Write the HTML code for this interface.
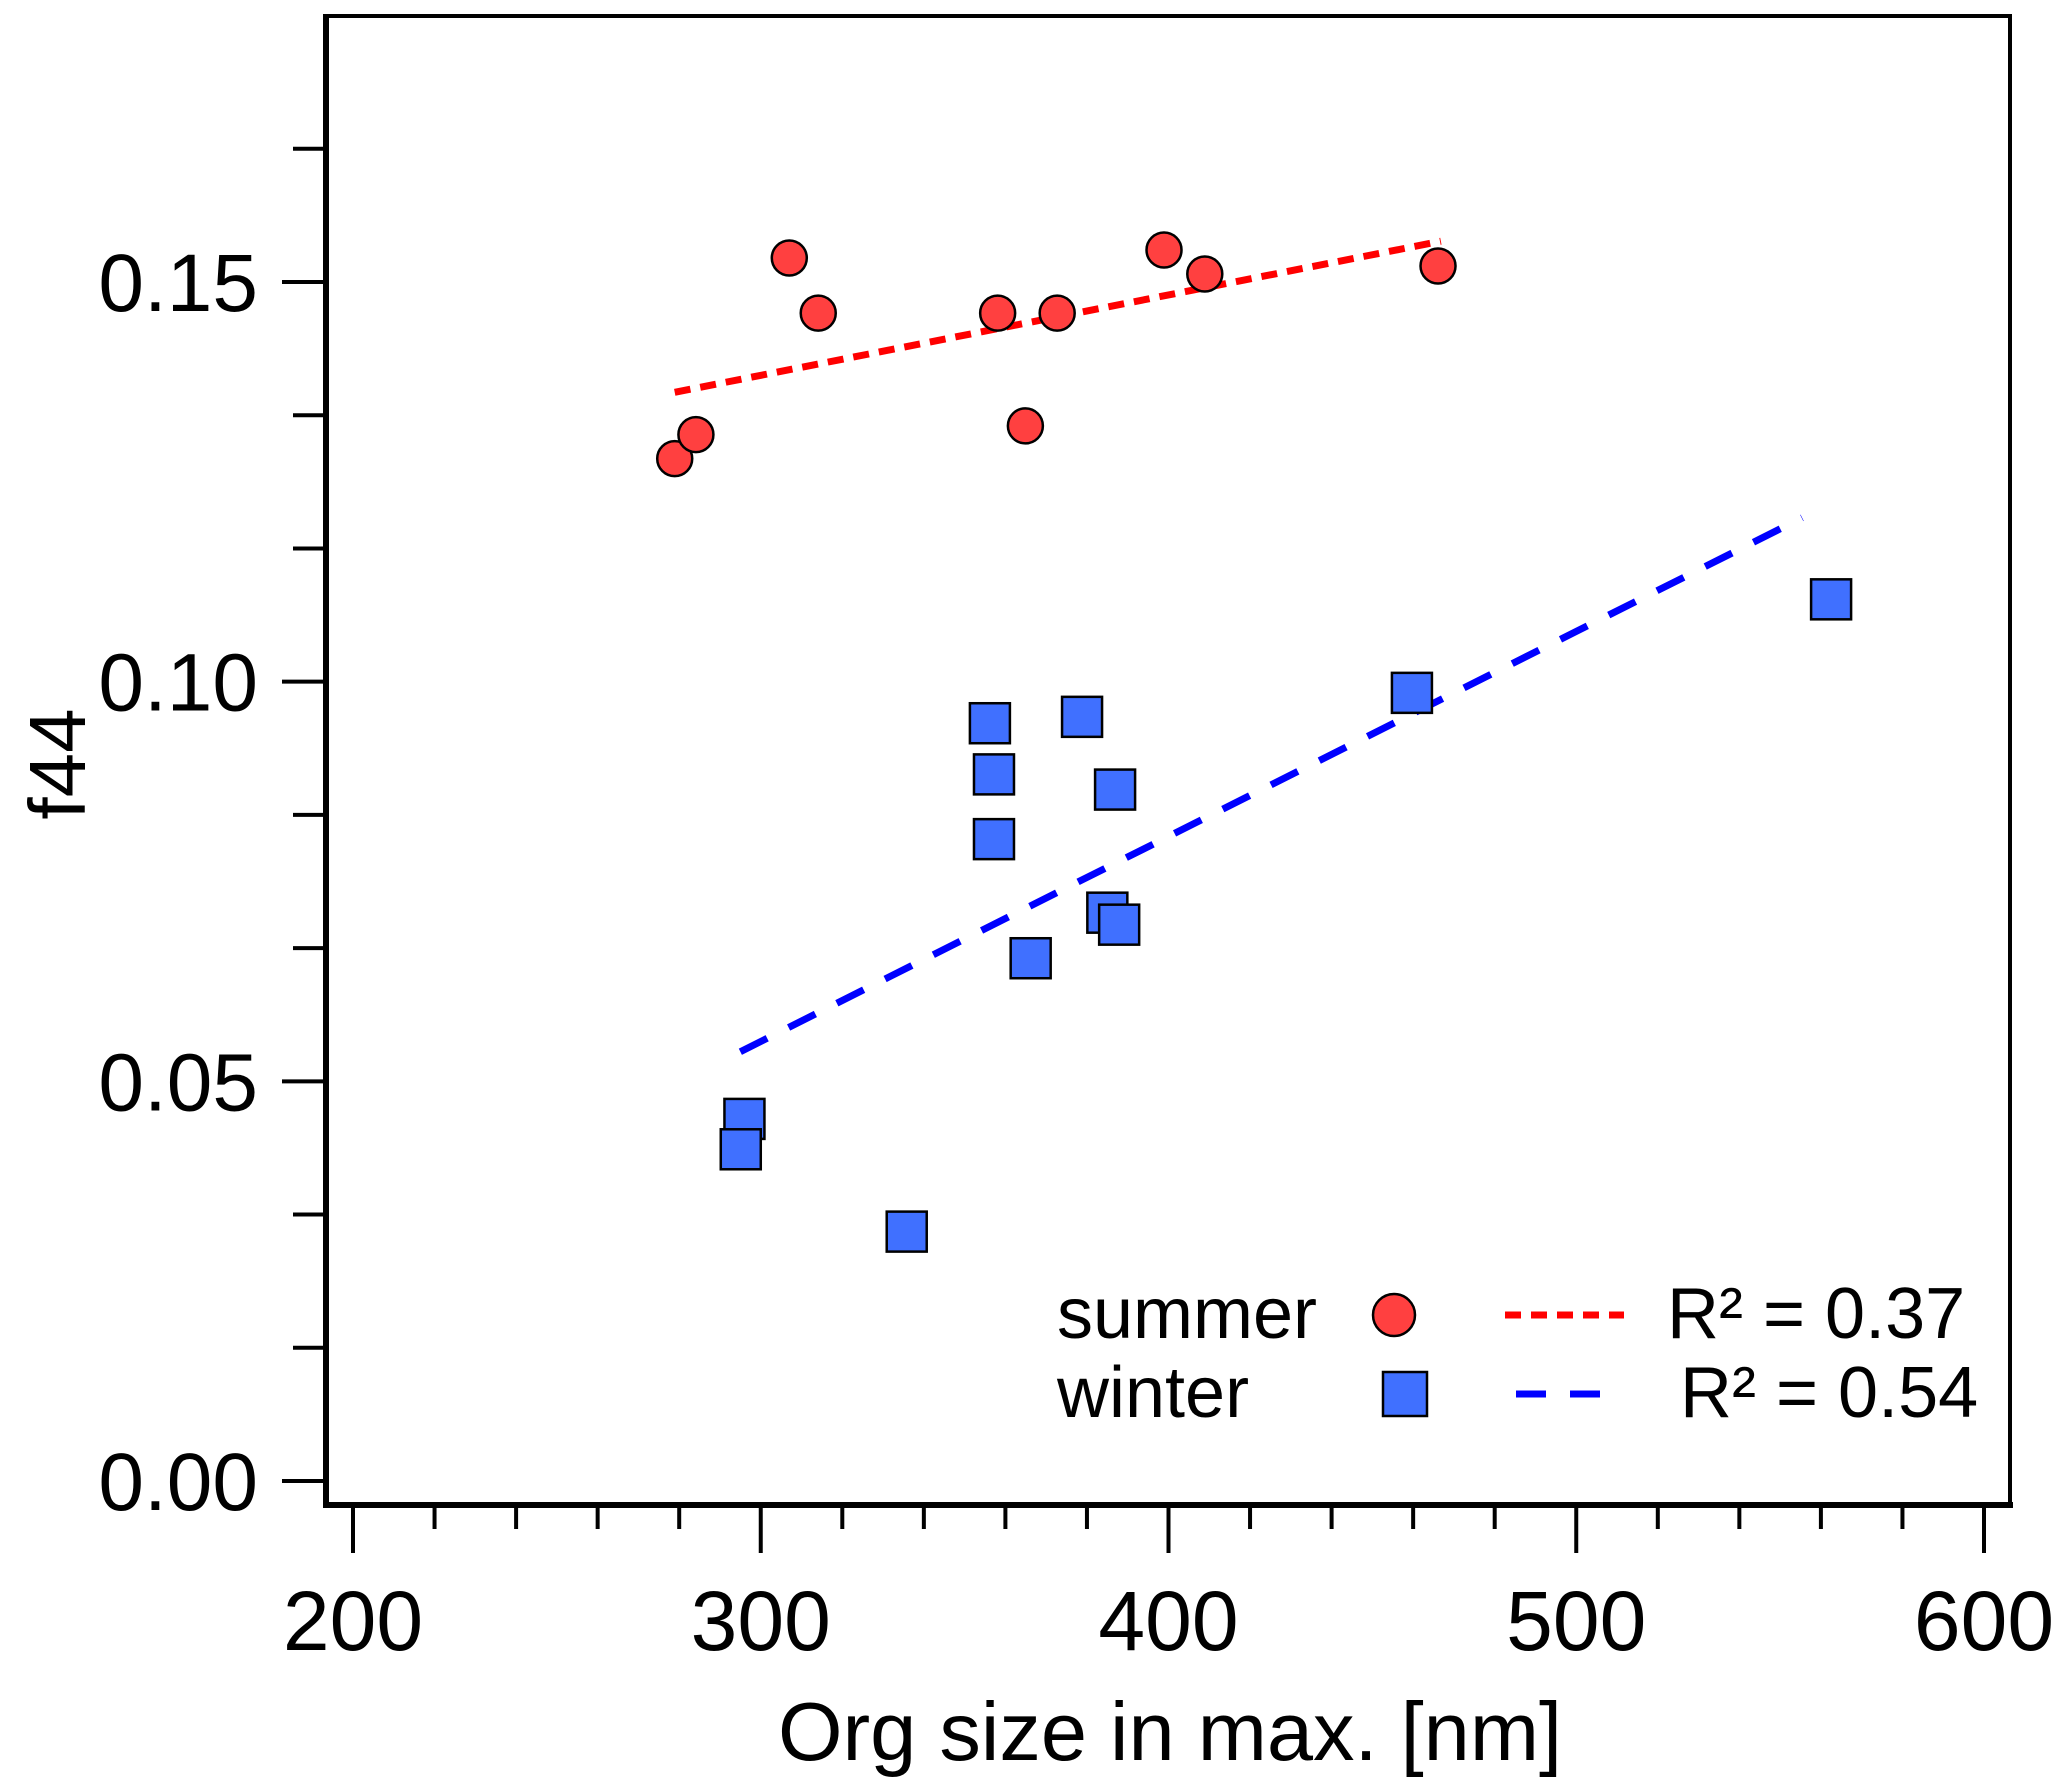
<!DOCTYPE html>
<html><head><meta charset="utf-8"><style>
html,body{margin:0;padding:0;background:#fff;}
svg{display:block;font-family:"Liberation Sans",sans-serif;}
</style></head><body>
<svg id="chart" width="2067" height="1786" viewBox="0 0 2067 1786"></svg>
<script>
const summerX=[278.9,284.1,307,314.1,358.1,364.9,372.7,398.9,408.9,466.1];
const summerY=[0.1279,0.1309,0.1530,0.1461,0.1461,0.1320,0.1461,0.1540,0.1510,0.1520];
const winterX=[356.2,357.2,357.2,378.8,386.9,385,387.9,366.2,296,295.1,335.8,459.7,562.5];
const winterY=[0.0948,0.0884,0.0803,0.0956,0.0865,0.0711,0.0696,0.0654,0.0453,0.0415,0.0312,0.0986,0.1103];
const summerTrendX=[278.9,466.8];
const summerTrendY=[0.1362,0.1551];
const winterTrendX=[295,555.4];
const winterTrendY=[0.0537,0.1205];
const xTickLabels=["200","300","400","500","600"];
const yTickLabels=["0.00","0.05","0.10","0.15"];

const svg=document.getElementById('chart');
const NS='http://www.w3.org/2000/svg';
const L=326,R=2010,T=16,B=1505;
const sx=v=>353+(v-200)*(1984-353)/400;
const sy=v=>1481-v*(1481-282)/0.15;
function mk(tag,attrs,parent){const e=document.createElementNS(NS,tag);for(const k in attrs)e.setAttribute(k,attrs[k]);(parent||svg).appendChild(e);return e;}

let frame=mk('rect',{x:L,y:T,width:R-L,height:B-T,fill:'none',stroke:'#000','stroke-width':4});


let bx=mk('line',{x1:L-3,x2:R+3,y1:B,y2:B,stroke:'#000','stroke-width':6});


let lx=mk('line',{x1:L,x2:L,y1:T-2,y2:B+3,stroke:'#000','stroke-width':6});



for(let i=0;i<=10;i++){
  const v=i*0.05/3, y=sy(v), major=i%3===0;
  const t=mk('line',{x1:major?282:293,x2:L,y1:y,y2:y,stroke:'#000','stroke-width':4});
  
  
}
yTickLabels.forEach(s=>{
  const y=sy(parseFloat(s));
  const t=mk('text',{x:258,y:y+29,'font-size':82,'text-anchor':'end'});t.textContent=s;
  
  
});
for(let v=200;v<=600;v+=20){
  const x=sx(v), major=v%100===0;
  const t=mk('line',{x1:x,x2:x,y1:B,y2:major?1553:1529,stroke:'#000','stroke-width':4});
  
  
}
xTickLabels.forEach(s=>{
  const t=mk('text',{x:sx(parseFloat(s)),y:1650,'font-size':84,'text-anchor':'middle'});t.textContent=s;
  
  
});
let xt=mk('text',{x:1170,y:1760,'font-size':83,'text-anchor':'middle'});xt.textContent='Org size in max. [nm]';


let yt=mk('text',{x:0,y:0,'font-size':80,'text-anchor':'middle',transform:'translate(85,764) rotate(-90)'});yt.textContent='f44';



let tl1=mk('line',{x1:sx(summerTrendX[0]),y1:sy(summerTrendY[0]),x2:sx(summerTrendX[1]),y2:sy(summerTrendY[1]),stroke:'#ff0000','stroke-width':7,'stroke-dasharray':'16 10'});


let tl2=mk('line',{x1:sx(winterTrendX[0]),y1:sy(winterTrendY[0]),x2:sx(winterTrendX[1]),y2:sy(winterTrendY[1]),stroke:'#0000ff','stroke-width':7,'stroke-dasharray':'30 24'});



summerX.forEach((v,i)=>{
  const c=mk('circle',{cx:sx(v),cy:sy(summerY[i]),r:17.5,fill:'#ff4040',stroke:'#000','stroke-width':2.5});
  
  
});
winterX.forEach((v,i)=>{
  const c=mk('rect',{x:sx(v)-20,y:sy(winterY[i])-20,width:40,height:40,fill:'#4070ff',stroke:'#000','stroke-width':2.5});
  
  
});

const lg=mk('g',{});


let a=mk('text',{x:1057,y:1338,'font-size':72},lg);a.textContent='summer';


let b=mk('circle',{cx:1394,cy:1315,r:21,fill:'#ff4040',stroke:'#000','stroke-width':2.5},lg);


let c=mk('line',{x1:1505,x2:1624,y1:1315,y2:1315,stroke:'#ff0000','stroke-width':7,'stroke-dasharray':'16 10'},lg);


let d=mk('text',{x:1667,y:1338,'font-size':72},lg);d.textContent='R² = 0.37';


let e=mk('text',{x:1057,y:1417,'font-size':72},lg);e.textContent='winter';


let f=mk('rect',{x:1383,y:1372,width:44,height:44,fill:'#4070ff',stroke:'#000','stroke-width':2.5},lg);


let g=mk('line',{x1:1516,x2:1621,y1:1394,y2:1394,stroke:'#0000ff','stroke-width':7,'stroke-dasharray':'30 24'},lg);


let h=mk('text',{x:1680,y:1417,'font-size':72},lg);h.textContent='R² = 0.54';


</script>
</body></html>
